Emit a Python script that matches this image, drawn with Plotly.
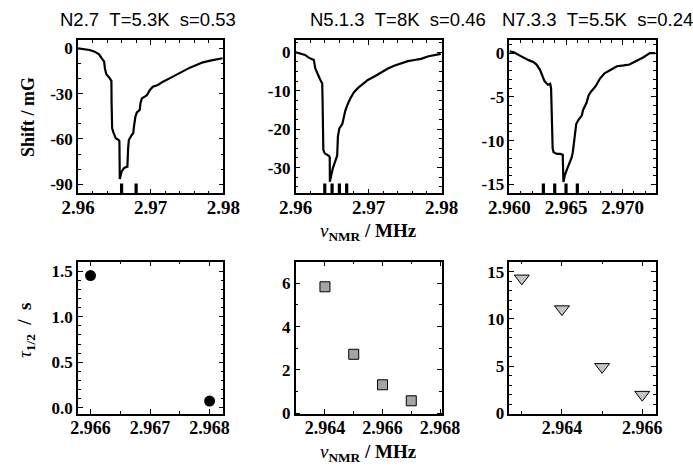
import plotly.graph_objects as go

# ---------------- data ----------------
freq1 = [2.9600, 2.9609, 2.9616, 2.9623, 2.9629, 2.9632, 2.9634, 2.9636, 2.9637, 2.9639,
         2.9643, 2.9646, 2.96462, 2.9647, 2.9649, 2.9652, 2.9656, 2.9657, 2.96572, 2.96575,
         2.9660, 2.9663, 2.9667, 2.9668, 2.9669, 2.9670, 2.9674, 2.9676, 2.9677, 2.9679,
         2.9681, 2.9685, 2.9686, 2.9688, 2.9692, 2.9695, 2.9699, 2.9703, 2.9710, 2.9717,
         2.9726, 2.9736, 2.9745, 2.9754, 2.9763, 2.9772, 2.9782, 2.9791, 2.9799]
shift1 = [0, -0.4, -1.1, -2.2, -4, -6.2, -7.7, -8.8, -13.2, -17.2,
          -19.4, -21.6, -35, -53, -56, -59.6, -60.7, -61.4, -70.6, -86.5,
          -81.7, -79.5, -78.4, -78.4, -66.2, -60.7, -57.4, -56.3, -51.9, -45.3,
          -42.4, -40.8, -36.4, -33.1, -32, -30.9, -27.6, -25.4, -24.3, -22.1,
          -19.9, -17.2, -15, -12.8, -11, -9.3, -8.2, -7.3, -6.6]

freq2 = [2.9600, 2.9606, 2.9613, 2.9618, 2.9623, 2.9625, 2.9627, 2.9630, 2.9633, 2.9635,
         2.96365, 2.9637, 2.9638, 2.9640, 2.9644, 2.9646, 2.96468, 2.9647, 2.9649, 2.9651,
         2.9655, 2.9657, 2.9658, 2.9660, 2.9664, 2.9666, 2.9668, 2.9671, 2.9675, 2.9680,
         2.9686, 2.9692, 2.9699, 2.9708, 2.9717, 2.9726, 2.9735, 2.9745, 2.9754, 2.9763,
         2.9772, 2.9781, 2.9790, 2.9799]
shift2 = [0, -0.3, -0.7, -1.4, -1.7, -2.0, -4.2, -5.7, -6.8, -7.6,
          -8.1, -12.8, -25.4, -26.3, -26.7, -27.0, -27.4, -33.7, -31.9, -30.2,
          -28.0, -26.9, -21.9, -19.8, -18.7, -17.0, -15.3, -13.7, -12.0, -10.4,
          -9.2, -8.3, -7.2, -6.3, -5.2, -4.3, -3.5, -2.9, -2.3, -2.0,
          -1.7, -1.1, -0.7, -0.4]

freq3 = [2.9600, 2.9604, 2.9608, 2.9612, 2.9617, 2.9621, 2.9624, 2.9627, 2.9629, 2.9631,
         2.9634, 2.9636, 2.96368, 2.96374, 2.96382, 2.9639, 2.9642, 2.9645, 2.96471, 2.96477,
         2.9649, 2.9651, 2.9653, 2.9655, 2.9656, 2.9657, 2.9659, 2.9661, 2.9664, 2.9665,
         2.9668, 2.9670, 2.9672, 2.9676, 2.9680, 2.9684, 2.9689, 2.9695, 2.9701, 2.9706,
         2.9712, 2.9718, 2.9724, 2.9729]
shift3 = [0.2, 0.1, -0.2, -0.5, -0.8, -1.0, -1.3, -1.9, -2.6, -3.2,
          -3.6, -3.5, -4.0, -7.4, -10.9, -11.3, -11.5, -11.5, -11.6, -14.7,
          -13.9, -13.2, -12.6, -11.9, -11.3, -10.1, -8.1, -7.6, -7.1, -6.5,
          -5.7, -4.8, -4.4, -3.8, -2.9, -2.3, -1.9, -1.5, -1.4, -1.3,
          -0.9, -0.5, 0.0, 0.0]

# measurement frequencies (bars on spectra) and half-lives
meas1 = [2.966, 2.968]
tau1 = [1.45, 0.075]
meas2 = [2.964, 2.965, 2.966, 2.967]
tau2 = [5.84, 2.72, 1.31, 0.57]
meas3 = [2.963, 2.964, 2.965, 2.966]
tau3 = [14.3, 11.05, 4.94, 2.0]

titles = ["N2.7\u00a0\u00a0T=5.3K\u00a0\u00a0s=0.53",
          "N5.1.3\u00a0\u00a0T=8K\u00a0\u00a0s=0.46",
          "N7.3.3\u00a0\u00a0T=5.5K\u00a0\u00a0s=0.24"]

# tick values / labels
xtv1 = [2.96, 2.97, 2.98]
xtt1 = ["2.96", "2.97", "2.98"]
xtv3 = [2.960, 2.965, 2.970]
xtt3 = ["2.960", "2.965", "2.970"]
xtv4 = [2.966, 2.967, 2.968]
xtt4 = ["2.966", "2.967", "2.968"]
xtv5 = [2.964, 2.966, 2.968]
xtt5 = ["2.964", "2.966", "2.968"]
xtv6 = [2.964, 2.966]
xtt6 = ["2.964", "2.966"]
ytv1 = [0, -30, -60, -90]
ytt1 = ["0", "-30", "-60", "-90"]
ytv2 = [0, -10, -20, -30]
ytt2 = ["0", "-10", "-20", "-30"]
ytv3 = [0, -5, -10, -15]
ytt3 = ["0", "-5", "-10", "-15"]
ytv4 = [0, 0.5, 1.0, 1.5]
ytt4 = ["0.0", "0.5", "1.0", "1.5"]
ytv5 = [0, 2, 4, 6]
ytt5 = ["0", "2", "4", "6"]
ytv6 = [0, 5, 10, 15]
ytt6 = ["0", "5", "10", "15"]

# axis ranges
yr1 = [-96, 5.5]
yr2 = [-36.7, 3.2]
yr3 = [-16.0, 1.5]

# ---------------- layout helpers ----------------
W, H = 693, 466
SERIF = "Liberation Serif, Times New Roman, Times, serif"
SANS = "Liberation Sans, Arial, sans-serif"


def xd(a, b):
    return [a / W, b / W]


def yd(top, bottom):
    return [1 - bottom / H, 1 - top / H]


cols = [xd(78, 223.3), xd(295.6, 441.5), xd(509.4, 655.5)]
rows = [yd(40, 193.3), yd(261.7, 414.2)]


def axis(domain, anchor, rng, tick0, mdtick, tickvals, ticktext, size, standoff=None):
    d = dict(domain=domain, anchor=anchor, range=rng,
             tickmode="array", tickvals=tickvals,
             ticktext=["<b>%s</b>" % t for t in ticktext],
             ticks="inside", ticklen=5, tickwidth=1.3, tickcolor="black",
             minor=dict(ticks="inside", ticklen=3, tickwidth=1, tickcolor="black",
                        tickmode="linear", dtick=mdtick, tick0=tick0),
             showline=True, linecolor="black", linewidth=1.5, mirror="allticks",
             showgrid=False, zeroline=False, tickangle=0, automargin=False,
             tickfont=dict(family=SERIF, size=size, color="black"))
    if standoff is not None:
        d["ticklabelstandoff"] = standoff
    return d


fig = go.Figure()

# spectra
for i, (fx, fy, meas, yr) in enumerate([(freq1, shift1, meas1, yr1),
                                         (freq2, shift2, meas2, yr2),
                                         (freq3, shift3, meas3, yr3)]):
    n = "" if i == 0 else str(i + 1)
    fig.add_trace(go.Scatter(x=fx, y=fy, mode="lines", line=dict(color="black", width=2.2),
                             xaxis="x" + n, yaxis="y" + n, showlegend=False))
    fig.add_trace(go.Scatter(x=meas, y=[yr[0]] * len(meas), mode="markers",
                             marker=dict(symbol="line-ns", size=14,
                                         line=dict(color="black", width=3.2)),
                             cliponaxis=True, xaxis="x" + n, yaxis="y" + n, showlegend=False))

# half lives
fig.add_trace(go.Scatter(x=meas1, y=tau1, mode="markers",
                         marker=dict(symbol="circle", size=11, color="black"),
                         xaxis="x4", yaxis="y4", showlegend=False, cliponaxis=False))
fig.add_trace(go.Scatter(x=meas2, y=tau2, mode="markers",
                         marker=dict(symbol="square", size=10, color="#a4a4a4",
                                     line=dict(color="black", width=1)),
                         xaxis="x5", yaxis="y5", showlegend=False, cliponaxis=False))
fig.add_trace(go.Scatter(x=meas3, y=tau3, mode="markers",
                         marker=dict(symbol="triangle-down", size=13, color="#c4c4c4",
                                     line=dict(color="black", width=1)),
                         xaxis="x6", yaxis="y6", showlegend=False, cliponaxis=False))

XT = 19
XB = 18
YS = 17
SO = -4
fig.update_layout(
    width=W, height=H, margin=dict(l=0, r=0, t=0, b=0),
    paper_bgcolor="white", plot_bgcolor="white", showlegend=False,
    xaxis=axis(cols[0], "y", [2.96, 2.98], 2.96, 0.002, xtv1, xtt1, XT, SO),
    yaxis=axis(rows[0], "x", yr1, 0, 10, ytv1, ytt1, YS),
    xaxis2=axis(cols[1], "y2", [2.96, 2.98], 2.96, 0.002, xtv1, xtt1, XT, SO),
    yaxis2=axis(rows[0], "x2", yr2, 0, 2.5, ytv2, ytt2, YS),
    xaxis3=axis(cols[2], "y3", [2.960, 2.9729], 2.96, 0.001, xtv3, xtt3, XT, SO),
    yaxis3=axis(rows[0], "x3", yr3, 0, 1, ytv3, ytt3, YS),
    xaxis4=axis(cols[0], "y4", [2.96579, 2.96823], 2.966, 0.0005, xtv4, xtt4, XB, SO),
    yaxis4=axis(rows[1], "x4", [-0.069, 1.602], 0, 0.1, ytv4, ytt4, YS),
    xaxis5=axis(cols[1], "y5", [2.96298, 2.96805], 2.964, 0.001, xtv5, xtt5, XB, SO),
    yaxis5=axis(rows[1], "x5", [-0.05, 7.0], 0, 1, ytv5, ytt5, YS),
    xaxis6=axis(cols[2], "y6", [2.96269, 2.96633], 2.964, 0.001, xtv6, xtt6, XB, SO),
    yaxis6=axis(rows[1], "x6", [-0.07, 16.06], 0, 1, ytv6, ytt6, YS),
)

ann = []
for tx, cx in zip(titles, [148, 398, 597.5]):
    ann.append(dict(text=tx, x=cx / W, y=1 - 19 / H, xref="paper", yref="paper",
                    xanchor="center", yanchor="middle", showarrow=False,
                    font=dict(family=SANS, size=18.5, color="black")))
ann.append(dict(text="<b>Shift / mG</b>", x=28 / W, y=1 - 117 / H, xref="paper", yref="paper",
                textangle=-90, xanchor="center", yanchor="middle", showarrow=False,
                font=dict(family=SERIF, size=18, color="black")))
ann.append(dict(text="<i>τ</i><sub><b>1/2</b></sub>  <b>/  s</b>", x=26 / W, y=1 - 330 / H,
                xref="paper", yref="paper", textangle=-90, xanchor="center", yanchor="middle",
                showarrow=False, font=dict(family=SERIF, size=19, color="black")))
for ytop in [218, 439]:
    ann.append(dict(text="<i>ν</i><sub><b>NMR</b></sub><b> / MHz</b>", x=368 / W, y=1 - ytop / H,
                    xref="paper", yref="paper", xanchor="center", yanchor="top",
                    showarrow=False, font=dict(family=SERIF, size=19, color="black")))
fig.update_layout(annotations=ann)

fig.write_html("out.html")
